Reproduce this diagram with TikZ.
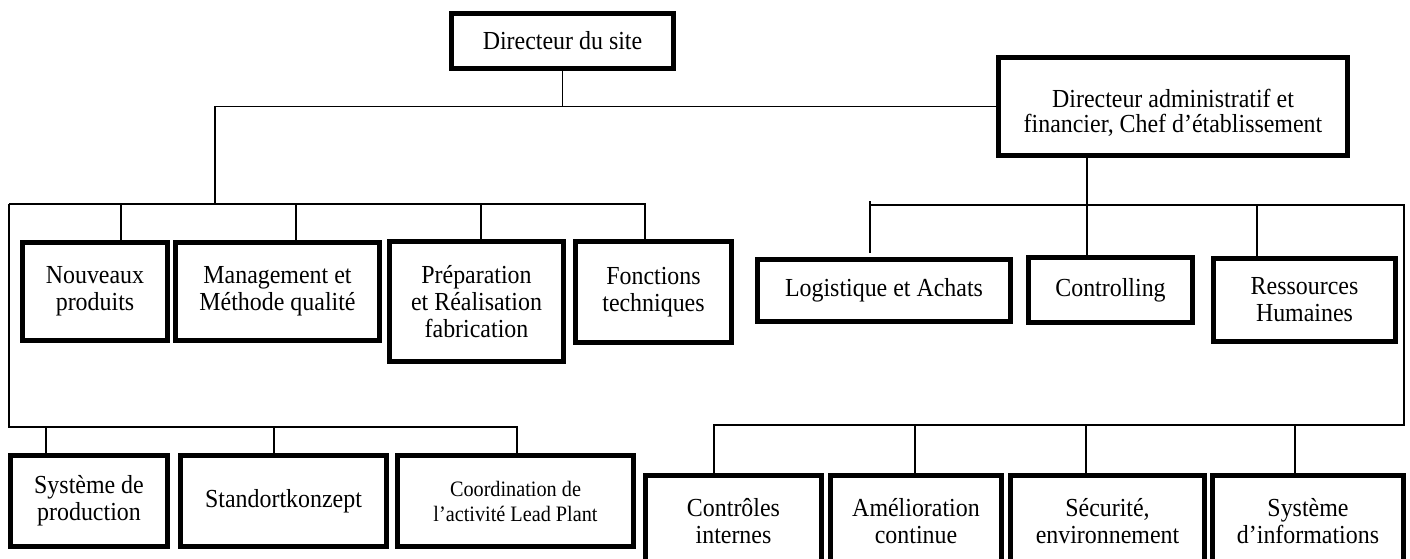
\documentclass[tikz,border=0pt]{standalone}
\usepackage{fontspec}
\setmainfont{Liberation Serif}[FakeStretch=0.92]
\begin{document}
\begin{tikzpicture}[x=0.5pt,y=-0.5pt]
\tikzset{
  box/.style={draw, line width=2.5pt, inner sep=0pt, align=center, fill=white,
    font=\fontsize{13}{13.5}\selectfont},
  smalltext/.style={font=\fontsize{11}{12.5}\selectfont},
  tighttext/.style={font=\fontsize{13}{11.5}\selectfont},
  conn/.style={line width=0.7pt}
}
\useasboundingbox (0,0) rectangle (1410,558);
\clip (0,0) rectangle (1410,558);
\fill[white] (0,0) rectangle (1410,558);

% top level
\node[box, minimum width=111pt, minimum height=27.5pt] (site) at (562.5,41) {Directeur du site};
\node[box, tighttext, minimum width=174.5pt, minimum height=49pt] (daf) at (1173,106.5)
  {\raisebox{-4pt}[\height][\depth]{\begin{tabular}{@{}c@{}}Directeur administratif et\\financier, Chef d’établissement\end{tabular}}};

% left group, first row
\node[box, minimum width=72.5pt, minimum height=49pt] (nouv) at (95,291.5) {Nouveaux\\produits};
\node[box, minimum width=102pt, minimum height=49pt] (mgmt) at (277.5,291.5) {Management et\\Méthode qualité};
\node[box, minimum width=87pt, minimum height=60pt] (prep) at (476.5,301.5) {Préparation\\et Réalisation\\fabrication};
\node[box, minimum width=78pt, minimum height=50.5pt] (fonc) at (653.5,292) {Fonctions\\techniques};

% right group, first row
\node[box, minimum width=126.5pt, minimum height=31pt] (logi) at (884,290.5) {Logistique et Achats};
\node[box, minimum width=82pt, minimum height=32.5pt] (ctrl) at (1110.5,290) {Controlling};
\node[box, minimum width=91pt, minimum height=41.5pt] (rh) at (1304.5,300) {Ressources\\Humaines};

% left group, second row
\node[box, minimum width=78.5pt, minimum height=45.5pt] (sysp) at (89,501) {Système de\\production};
\node[box, minimum width=103pt, minimum height=45.5pt] (stand) at (283.5,501) {Standortkonzept};
\node[box, smalltext, minimum width=118pt, minimum height=45.5pt] (coord) at (515.5,501) {Coordination de\\l’activité Lead Plant};

% right group, second row
\node[box, minimum width=88pt, minimum height=45.5pt] (ci) at (733.5,521) {Contrôles\\internes};
\node[box, minimum width=85.5pt, minimum height=45.5pt] (amel) at (916,521) {Amélioration\\continue};
\node[box, minimum width=97pt, minimum height=45.5pt] (secu) at (1107.5,521) {Sécurité,\\environnement};
\node[box, minimum width=95.5pt, minimum height=45.5pt] (sysi) at (1308,521) {Système\\d’informations};

% junction coordinates
\coordinate (L1) at (215,204);
\coordinate (LA) at (9,204);
\coordinate (LE) at (645,204);
\coordinate (d1) at (121,204);
\coordinate (d2) at (296,204);
\coordinate (d3) at (481,204);
\coordinate (LB) at (9,427);
\coordinate (LC) at (517,427);
\coordinate (e1) at (46,427);
\coordinate (e2) at (274,427);
\coordinate (R0) at (1087,205);
\coordinate (RA) at (870,205);
\coordinate (RB) at (1404,205);
\coordinate (R2) at (1257,205);
\coordinate (RC) at (1404,425);
\coordinate (RD) at (714,425);
\coordinate (f2) at (915,425);
\coordinate (f3) at (1086,425);
\coordinate (f4) at (1295,425);
\coordinate (T1) at (870,201);
\coordinate (T2) at (870,253);

% connectors, top
\draw[conn] (site.south) -- (site.south |- daf.west);
\draw[conn] (L1) -- (L1 |- daf.west) -- (daf.west);

% left group
\draw[conn] (LA) -- (LE) -- (LE |- fonc.north);
\draw[conn] (d1) -- (d1 |- nouv.north);
\draw[conn] (d2) -- (d2 |- mgmt.north);
\draw[conn] (d3) -- (d3 |- prep.north);
\draw[conn] (LA) -- (LB) -- (LC) -- (LC |- coord.north);
\draw[conn] (e1) -- (e1 |- sysp.north);
\draw[conn] (e2) -- (e2 |- stand.north);

% right group
\draw[conn] (R0 |- daf.south) -- (R0 |- ctrl.north);
\draw[conn] (RA) -- (RB) -- (RC) -- (RD) -- (RD |- ci.north);
\draw[conn] (T1) -- (T2);
\draw[conn] (R2) -- (R2 |- rh.north);
\draw[conn] (f2) -- (f2 |- amel.north);
\draw[conn] (f3) -- (f3 |- secu.north);
\draw[conn] (f4) -- (f4 |- sysi.north);
\end{tikzpicture}
\end{document}
